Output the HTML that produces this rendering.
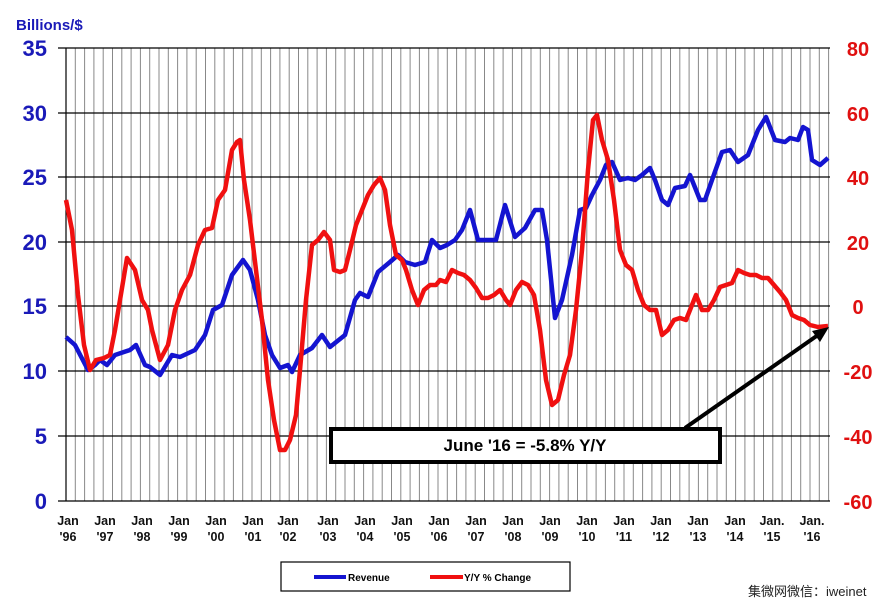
<!DOCTYPE html>
<html><head><meta charset="utf-8"><style>body{margin:0;background:#fff}svg{display:block}</style></head><body>
<svg width="895" height="607" xmlns="http://www.w3.org/2000/svg" font-family="Liberation Sans, Arial, sans-serif">
<rect width="895" height="607" fill="#fff"/>
<path fill="none" stroke="#888" stroke-width="1" d="M75.3 48V501M84.6 48V501M93.9 48V501M103.2 48V501M112.5 48V501M121.8 48V501M131.1 48V501M140.4 48V501M149.7 48V501M159 48V501M168.3 48V501M177.6 48V501M186.9 48V501M196.2 48V501M205.5 48V501M214.8 48V501M224.1 48V501M233.4 48V501M242.7 48V501M252 48V501M261.3 48V501M270.6 48V501M279.9 48V501M289.2 48V501M298.5 48V501M307.8 48V501M317.1 48V501M326.4 48V501M335.7 48V501M345 48V501M354.3 48V501M363.6 48V501M372.9 48V501M382.2 48V501M391.5 48V501M400.8 48V501M410.1 48V501M419.4 48V501M428.7 48V501M438 48V501M447.3 48V501M456.6 48V501M465.9 48V501M475.2 48V501M484.5 48V501M493.8 48V501M503.1 48V501M512.4 48V501M521.7 48V501M531 48V501M540.3 48V501M549.6 48V501M558.9 48V501M568.2 48V501M577.5 48V501M586.8 48V501M596.1 48V501M605.4 48V501M614.7 48V501M624 48V501M633.3 48V501M642.6 48V501M651.9 48V501M661.2 48V501M670.5 48V501M679.8 48V501M689.1 48V501M698.4 48V501M707.7 48V501M717 48V501M726.3 48V501M735.6 48V501M744.9 48V501M754.2 48V501M763.5 48V501M772.8 48V501M782.1 48V501M791.4 48V501M800.7 48V501M810 48V501M819.3 48V501M828.6 48V501"/>
<g stroke="#000" stroke-width="1.2">
<line x1="58" y1="48" x2="830" y2="48"/><line x1="58" y1="113" x2="830" y2="113"/><line x1="58" y1="177" x2="830" y2="177"/><line x1="58" y1="242" x2="830" y2="242"/><line x1="58" y1="306" x2="830" y2="306"/><line x1="58" y1="371" x2="830" y2="371"/><line x1="58" y1="436" x2="830" y2="436"/><line x1="58" y1="501" x2="830" y2="501"/>
<line x1="66" y1="48" x2="66" y2="501"/>
</g>
<g fill="#1a1ab8" font-weight="bold" font-size="22" text-anchor="end">
<text x="47" y="56">35</text><text x="47" y="121">30</text><text x="47" y="185">25</text><text x="47" y="250">20</text><text x="47" y="314">15</text><text x="47" y="379">10</text><text x="47" y="444">5</text><text x="47" y="509">0</text>
</g>
<text x="16" y="30" fill="#1a1ab8" font-weight="bold" font-size="15">Billions/$</text>
<g fill="#e01010" font-weight="bold" font-size="20" text-anchor="middle">
<text x="858" y="56">80</text><text x="858" y="121">60</text><text x="858" y="185">40</text><text x="858" y="250">20</text><text x="858" y="314">0</text><text x="858" y="379">-20</text><text x="858" y="444">-40</text><text x="858" y="509">-60</text>
</g>
<g font-weight="bold" font-size="12.5" text-anchor="middle" fill="#111">
<text x="68" y="525">Jan</text><text x="68" y="541">'96</text>
<text x="105" y="525">Jan</text><text x="105" y="541">'97</text>
<text x="142" y="525">Jan</text><text x="142" y="541">'98</text>
<text x="179" y="525">Jan</text><text x="179" y="541">'99</text>
<text x="216" y="525">Jan</text><text x="216" y="541">'00</text>
<text x="253" y="525">Jan</text><text x="253" y="541">'01</text>
<text x="288" y="525">Jan</text><text x="288" y="541">'02</text>
<text x="328" y="525">Jan</text><text x="328" y="541">'03</text>
<text x="365" y="525">Jan</text><text x="365" y="541">'04</text>
<text x="402" y="525">Jan</text><text x="402" y="541">'05</text>
<text x="439" y="525">Jan</text><text x="439" y="541">'06</text>
<text x="476" y="525">Jan</text><text x="476" y="541">'07</text>
<text x="513" y="525">Jan</text><text x="513" y="541">'08</text>
<text x="550" y="525">Jan</text><text x="550" y="541">'09</text>
<text x="587" y="525">Jan</text><text x="587" y="541">'10</text>
<text x="624" y="525">Jan</text><text x="624" y="541">'11</text>
<text x="661" y="525">Jan</text><text x="661" y="541">'12</text>
<text x="698" y="525">Jan</text><text x="698" y="541">'13</text>
<text x="735" y="525">Jan</text><text x="735" y="541">'14</text>
<text x="772" y="525">Jan.</text><text x="772" y="541">'15</text>
<text x="812" y="525">Jan.</text><text x="812" y="541">'16</text>
</g>
<polyline fill="none" stroke="#1414d0" stroke-width="4.5" stroke-linejoin="round" points="66,337 75,345 88,370 95,365 100,360 107,365 115,355 130,350 136,345 145,365 150,367 160,375 172,355 180,357 195,350 205,335 213,310 222,305 232,275 243,260 250,270 258,300 265,335 272,355 280,368 288,365 292,372 300,355 312,348 322,335 330,347 345,335 355,300 360,293 368,297 378,272 390,262 398,255 405,262 415,265 425,262 432,240 440,248 447,245 455,240 462,230 470,210 478,240 490,240 496,240 505,205 515,237 525,228 535,210 542,210 547,240 555,318 562,300 572,255 580,210 586,208 592,195 600,180 606,165 612,162 620,180 628,178 635,180 642,175 650,168 655,180 662,200 668,205 675,188 685,186 690,175 700,200 705,200 712,180 722,152 730,150 738,162 748,155 758,130 766,117 775,140 785,142 790,138 798,140 803,127 808,130 812,160 820,165 828,158"/>
<polyline fill="none" stroke="#f01010" stroke-width="4.5" stroke-linejoin="round" points="66,200 72,230 78,295 84,345 90,370 96,360 104,358 110,355 115,330 120,300 127,258 135,270 142,300 148,310 152,330 160,360 168,345 175,310 182,290 190,275 198,245 205,230 212,228 218,200 225,190 232,150 237,142 240,140 244,180 250,220 256,270 262,320 268,380 274,420 280,450 285,450 290,440 296,415 300,370 306,300 312,245 318,240 324,232 330,240 334,270 340,272 345,270 350,250 356,225 362,210 368,195 374,185 380,178 385,190 390,225 396,255 402,260 406,270 412,290 418,305 424,290 430,285 436,285 440,280 446,282 452,270 458,273 464,275 470,280 476,288 482,298 488,298 494,295 500,290 506,300 510,305 516,290 522,282 528,285 534,295 540,330 546,380 552,405 558,400 564,375 570,355 576,310 582,250 588,170 593,120 597,115 602,140 608,160 614,200 620,250 626,265 632,270 638,290 644,305 650,310 656,310 662,335 668,330 674,320 680,318 686,320 690,310 696,295 702,310 708,310 714,300 720,287 726,285 732,283 738,270 744,273 750,275 756,275 762,278 768,278 774,285 780,292 786,300 792,315 798,318 804,320 810,325 818,327 828,326"/>
<line x1="685" y1="428" x2="818" y2="335" stroke="#000" stroke-width="4"/>
<polygon points="829,327 812,331 820,342" fill="#000"/>
<rect x="331" y="429" width="389" height="33" fill="#fff" stroke="#000" stroke-width="4"/>
<text x="525" y="451" text-anchor="middle" font-weight="bold" font-size="17">June '16 = -5.8% Y/Y</text>
<rect x="281" y="562" width="289" height="29" fill="#fff" stroke="#000" stroke-width="1.2"/>
<line x1="314" y1="577" x2="346" y2="577" stroke="#1414d0" stroke-width="4"/>
<text x="348" y="581" font-weight="bold" font-size="10">Revenue</text>
<line x1="430" y1="577" x2="463" y2="577" stroke="#f01010" stroke-width="4"/>
<text x="464" y="581" font-weight="bold" font-size="10">Y/Y % Change</text>
<text x="748" y="596" font-size="13" font-family="Liberation Sans, Noto Sans CJK SC, sans-serif" fill="#222">集微网微信：iweinet</text>
</svg>
</body></html>
